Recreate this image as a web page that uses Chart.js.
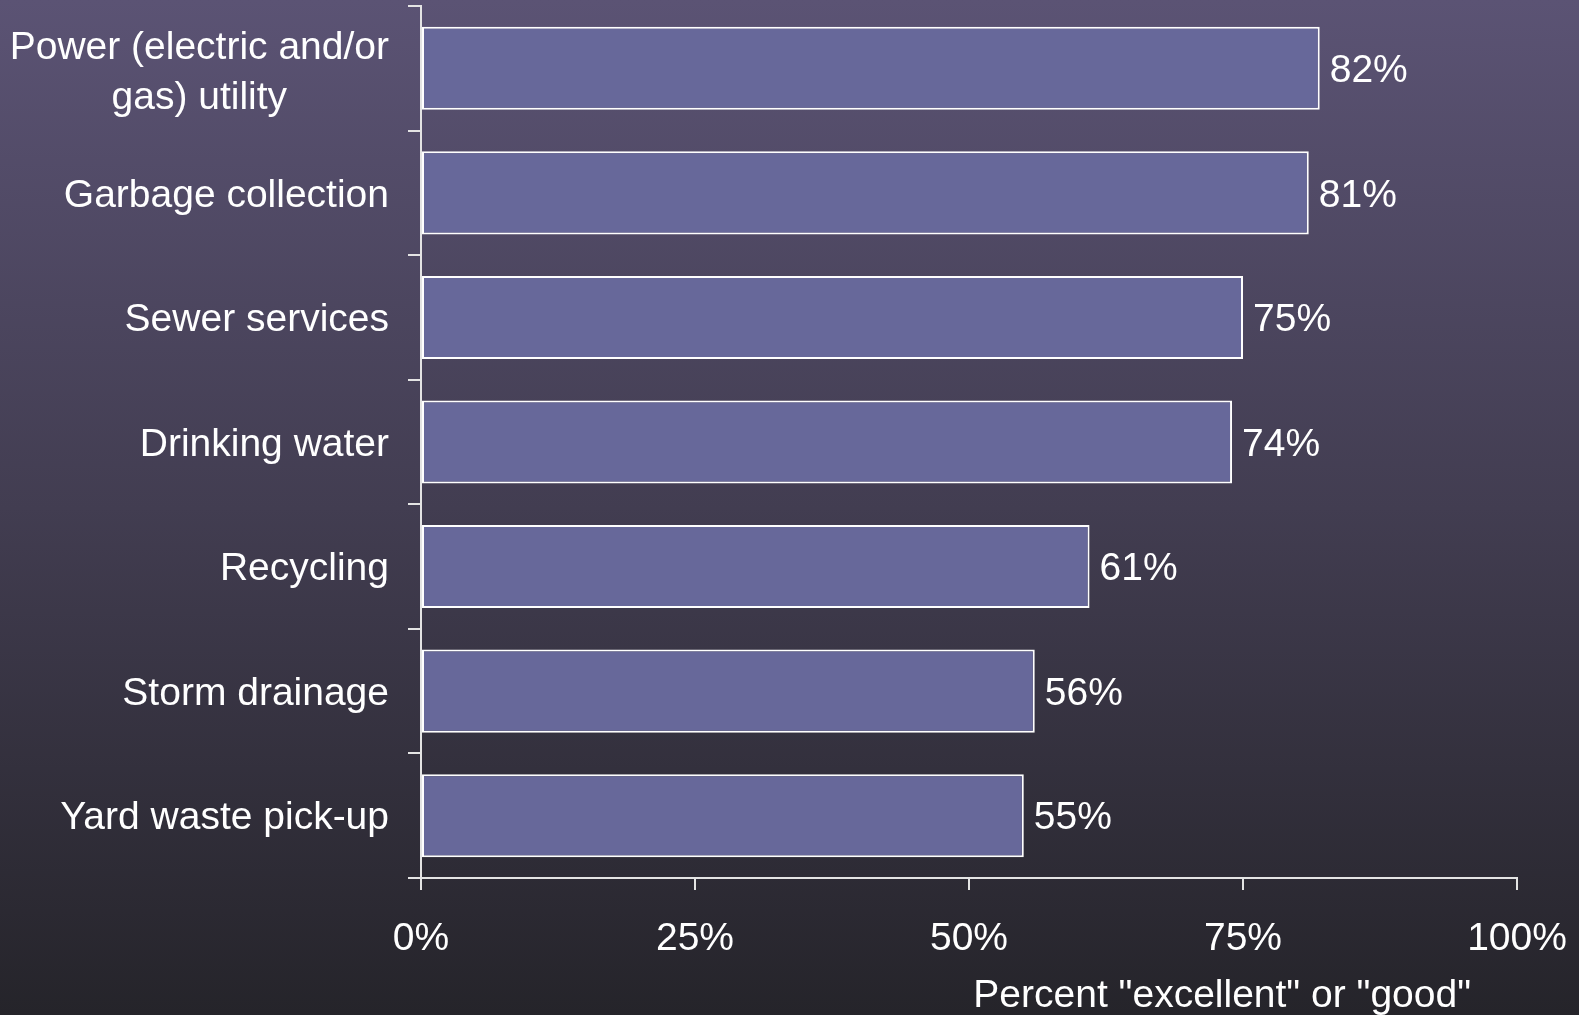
<!DOCTYPE html>
<html>
<head>
<meta charset="utf-8">
<script src="https://cdn.jsdelivr.net/npm/chart.js@4"></script>
<style>
  html, body { margin: 0; padding: 0; }
  body { width: 1579px; height: 1015px; background: linear-gradient(to bottom, #5b5374 0%, #423d51 50%, #25242a 100%); overflow: hidden; }
  #wrap { width: 1579px; height: 1015px; position: relative; }
</style>
</head>
<body>
<div id="wrap"><canvas id="chart"></canvas></div>
<script>
// service ratings
const categories = [
  ["Power (electric and/or", "gas) utility"],
  "Garbage collection",
  "Sewer services",
  "Drinking water",
  "Recycling",
  "Storm drainage",
  "Yard waste pick-up"
];
const percents = [82, 81, 75, 74, 61, 56, 55];
const xTicks = [0, 25, 50, 75, 100];
const axisTitle = 'Percent "excellent" or "good"';

const FONT_FAMILY = "'Liberation Sans', Arial, sans-serif";
const FONT_SIZE = 39;
const AXIS_COLOR = "#e4e4e4";

// draws category names (multi-line centred), value labels and the x title
const labelPlugin = {
  id: "labelPlugin",
  afterDatasetsDraw(chart) {
    const ctx = chart.ctx;
    const ys = chart.scales.y, xs = chart.scales.x;
    ctx.save();
    ctx.fillStyle = "#ffffff";
    ctx.font = FONT_SIZE + "px " + FONT_FAMILY;
    ctx.textBaseline = "middle";

    categories.forEach((c, i) => {
      const lines = [].concat(c);
      const w = Math.max(...lines.map(l => ctx.measureText(l).width));
      const cx = ys.right - 32 - w / 2;
      const cy = ys.getPixelForTick(i) + (lines.length > 1 ? 5 : 3);
      ctx.textAlign = "center";
      lines.forEach((l, j) => ctx.fillText(l, cx, cy + (j - (lines.length - 1) / 2) * 50));
    });

    ctx.textAlign = "left";
    chart.getDatasetMeta(0).data.forEach((bar, i) => {
      ctx.fillText(percents[i] + "%", bar.x + 10, bar.y + 3);
    });

    ctx.textAlign = "right";
    ctx.fillText(axisTitle, xs.right - 46, xs.bottom - 19);
    ctx.restore();
  }
};

new Chart(document.getElementById("chart"), {
  type: "bar",
  data: {
    labels: categories,
    datasets: [{
      data: percents,
      backgroundColor: "#67689a",
      borderColor: "#ffffff",
      borderWidth: 2,
      borderSkipped: false,
      categoryPercentage: 0.667,
      barPercentage: 1
    }]
  },
  options: {
    indexAxis: "y",
    responsive: true,
    maintainAspectRatio: false,
    animation: false,
    layout: { padding: { top: 6, right: 62, left: 0, bottom: 0 } },
    plugins: { legend: { display: false }, tooltip: { enabled: false } },
    scales: {
      x: {
        min: 0,
        max: 100,
        afterBuildTicks: s => { s.ticks = xTicks.map(v => ({ value: v })); },
        afterFit: s => { s.height = 137; s.paddingLeft = 0; s.paddingRight = 0; },
        ticks: {
          color: "#ffffff",
          padding: 26,
          font: { family: FONT_FAMILY, size: FONT_SIZE },
          maxRotation: 0,
          callback: v => v + "%"
        },
        grid: { drawOnChartArea: false, drawTicks: true, tickLength: 12, color: AXIS_COLOR, lineWidth: 2 },
        border: { display: true, color: AXIS_COLOR, width: 2 }
      },
      y: {
        afterFit: s => { s.width = 421; },
        ticks: { display: false },
        grid: { drawOnChartArea: false, drawTicks: true, tickLength: 13, color: AXIS_COLOR, lineWidth: 2, offset: true },
        border: { display: true, color: AXIS_COLOR, width: 2 }
      }
    }
  },
  plugins: [labelPlugin]
});
</script>
</body>
</html>
